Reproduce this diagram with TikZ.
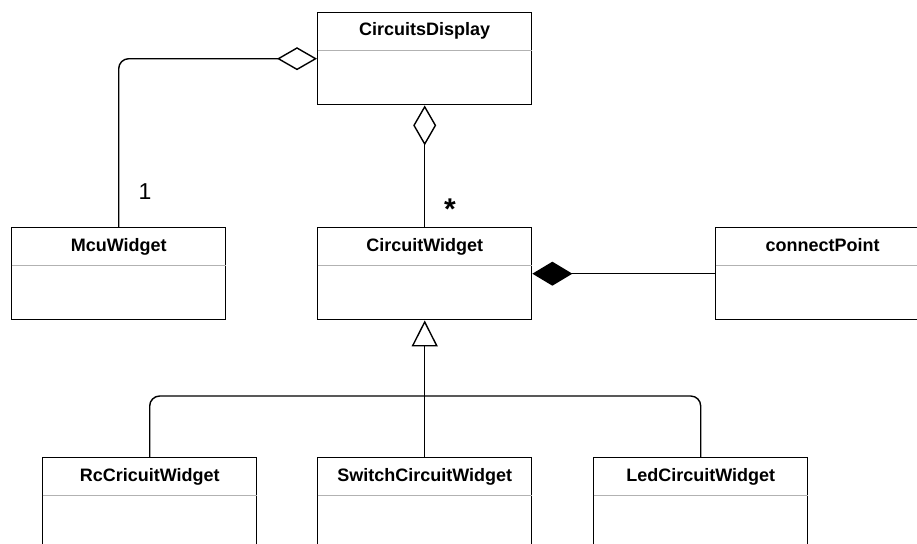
\documentclass[tikz,border=0pt]{standalone}
\usepackage{fontspec}
\setmainfont{Liberation Sans}
\usetikzlibrary{arrows.meta}
\begin{document}
\begin{tikzpicture}[x=1pt,y=-1pt,
  cls/.style={draw=black, line width=1.4pt, fill=white, minimum width=214pt, minimum height=92pt, anchor=north west, inner sep=0pt},
  title/.style={font=\fontsize{18}{20}\selectfont\bfseries, inner sep=0pt, anchor=base},
  divider/.style={draw=black!30, line width=1pt},
  conn/.style={draw=black, line width=1.4pt},
  mult/.style={font=\fontsize{23}{26}\selectfont, inner sep=0pt},
  star/.style={font=\fontsize{30}{32}\selectfont\bfseries, inner sep=0pt, anchor=base}]
\useasboundingbox (0,0) rectangle (917,543);
\clip (0,0) rectangle (917,543);
% class boxes
\node[cls] (cd)  at (317,12)  {};
\node[cls] (mcu) at (11,227)  {};
\node[cls] (cw)  at (317,227) {};
\node[cls] (cp)  at (715,227) {};
\node[cls] (rc)  at (42,457)  {};
\node[cls] (sw)  at (317,457) {};
\node[cls] (led) at (593,457) {};
% dividers and titles
\foreach \n/\t in {cd/CircuitsDisplay, mcu/McuWidget, cw/CircuitWidget, cp/connectPoint,
                   rc/RcCricuitWidget, sw/SwitchCircuitWidget, led/LedCircuitWidget}{
  \draw[divider] ([xshift=0.7pt,yshift=-38.5pt]\n.north west) -- ([xshift=-0.7pt,yshift=-38.5pt]\n.north east);
  \node[title] (\n-t) at ([yshift=-24pt]\n.north) {\t};
}
% aggregation McuWidget -> CircuitsDisplay
\draw[conn, rounded corners=10pt, -{Diamond[open, length=40pt, width=23pt]}] (mcu.north) |- (cd.west);
% aggregation CircuitWidget -> CircuitsDisplay
\draw[conn, {Diamond[open, length=40pt, width=23pt]}-] (cd.south) -- (cw.north);
% composition connectPoint -> CircuitWidget
\draw[conn, {Diamond[length=40pt, width=24pt]}-] (cw.east) -- (cp.west);
% generalisation
\coordinate (bus) at (424,396);
\draw[conn, rounded corners=10pt] (rc.north) |- (bus) -| (led.north);
\draw[conn, -{Triangle[open, length=26pt, width=26pt]}] (sw.north) -- (cw.south);
% multiplicities
\node[mult] (m1) at (145,192) {1};
\node[star] (m2) at (450,219) {*};
\end{tikzpicture}
\end{document}
